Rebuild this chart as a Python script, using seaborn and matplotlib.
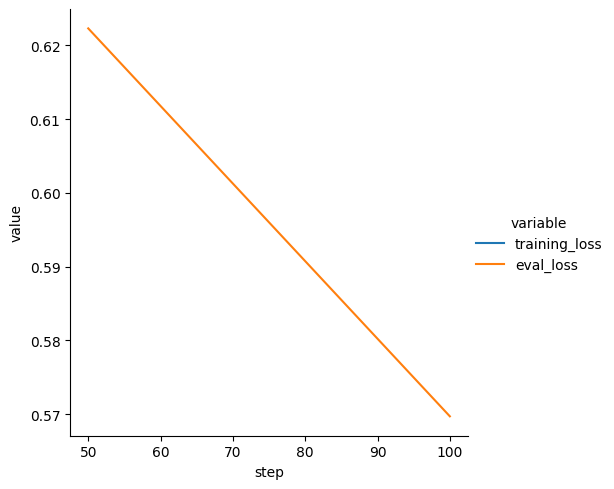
import numpy as np
import pandas as pd
import seaborn as sns
import matplotlib.pyplot as plt

# logged values (training loss was not recorded at these steps)
steps = [50, 100]
training_loss = [np.nan, np.nan]
eval_loss = [0.6223, 0.5697]

df = pd.DataFrame({'step': steps, 'training_loss': training_loss, 'eval_loss': eval_loss})
long_df = df.melt(id_vars='step', value_vars=['training_loss', 'eval_loss'])

g = sns.relplot(data=long_df, x='step', y='value', hue='variable', kind='line')
g.savefig('out.png', dpi=100)
